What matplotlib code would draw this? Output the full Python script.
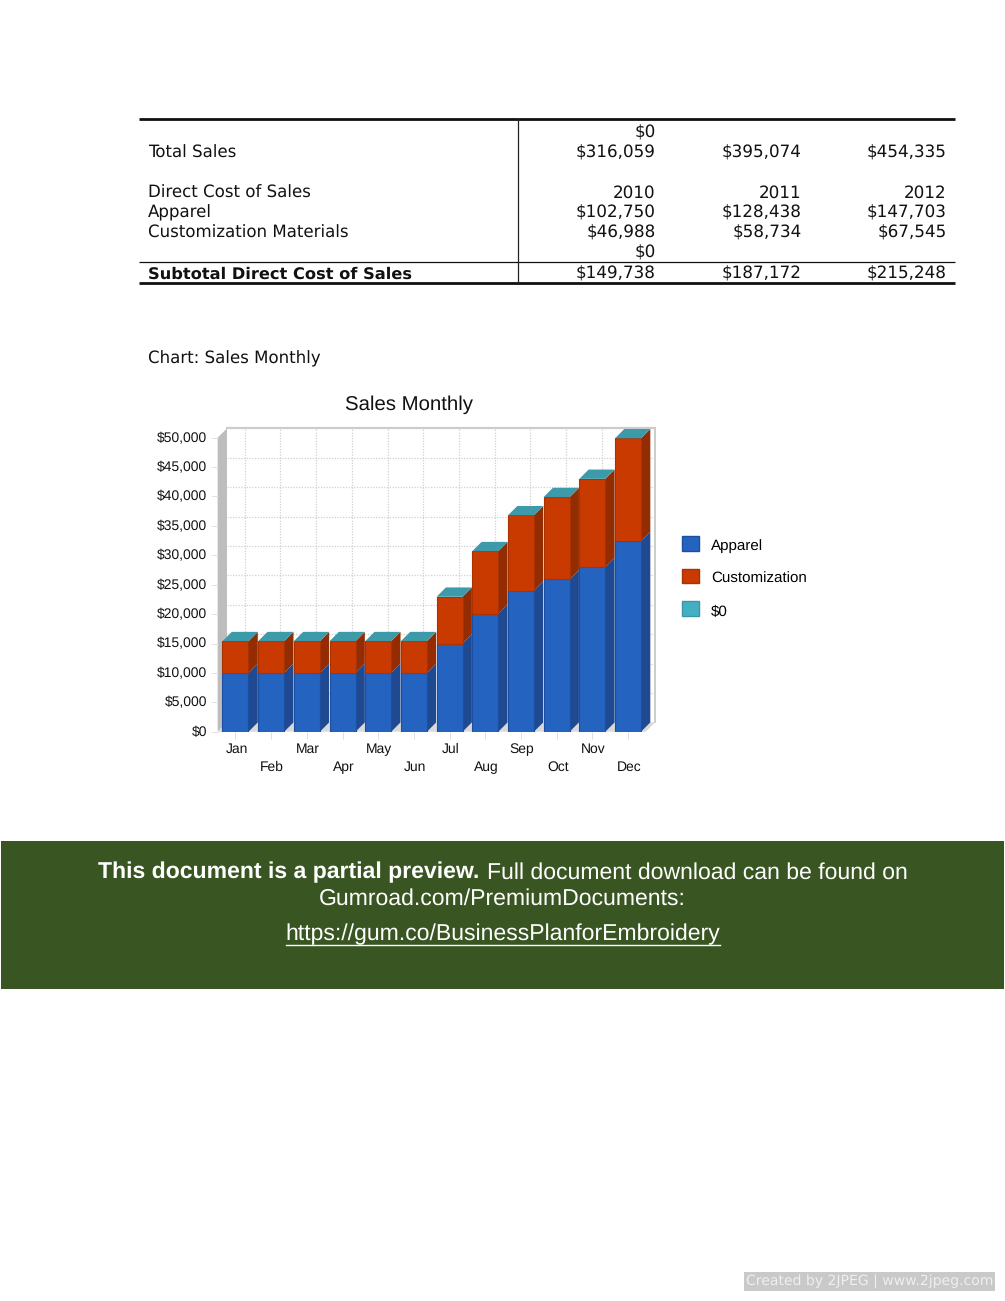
import matplotlib
matplotlib.use("Agg")
import matplotlib.pyplot as plt
from matplotlib.patches import Polygon, Rectangle, Patch
from matplotlib.legend_handler import HandlerPatch
from matplotlib.transforms import ScaledTranslation

plt.rcParams["text.hinting"] = "no_hinting"
plt.rcParams["text.hinting_factor"] = 8

W, H = 1005, 1301

months = ["Jan", "Feb", "Mar", "Apr", "May", "Jun", "Jul", "Aug", "Sep", "Oct", "Nov", "Dec"]
apparel = [10000, 10000, 10000, 10000, 10000, 10000, 15000, 20100, 24000, 25900, 28000, 32400]
customization = [5400, 5400, 5400, 5400, 5400, 5400, 7950, 10600, 12800, 14000, 15000, 17500]
zero_series = [0] * 12
y_ticks = list(range(0, 50001, 5000))
y_labels = [f"${v:,}" for v in y_ticks]

table_rows = [
    ("", "$0", "", ""),
    ("Total Sales", "$316,059", "$395,074", "$454,335"),
    ("Direct Cost of Sales", "2010", "2011", "2012"),
    ("Apparel", "$102,750", "$128,438", "$147,703"),
    ("Customization Materials", "$46,988", "$58,734", "$67,545"),
    ("", "$0", "", ""),
    ("Subtotal Direct Cost of Sales", "$149,738", "$187,172", "$215,248"),
]
table_y = [138, 157.5, 197.3, 217.3, 237.3, 257.3, 278.3]

fig = plt.figure(figsize=(W / 100, H / 100), dpi=100, facecolor="white")

# page layer in pixel coordinates
page = fig.add_axes([0, 0, 1, 1])
page.set_xlim(0, W)
page.set_ylim(H, 0)
page.axis("off")

for y, lw in ((119, 2.0), (261.5, 0.9), (283, 2.0)):
    page.plot([139, 955], [y, y], color="#111111", lw=lw, solid_capstyle="butt")
page.plot([518, 518], [119, 283], color="#222222", lw=0.9)

for row, y in zip(table_rows, table_y):
    bold = row[0].startswith("Subtotal")
    page.text(148, y, row[0], ha="left", va="baseline", fontsize=11.67 if bold else 12, color="#111111",
              family="DejaVu Sans", fontweight="bold" if bold else "normal")
    for x, s in zip((655.5, 801.5, 946.5), row[1:]):
        page.text(x, y, s, ha="right", va="baseline", fontsize=12.1, color="#111111",
                  family="DejaVu Sans")
page.text(148, 363.5, "Chart: Sales Monthly", ha="left", va="baseline", fontsize=12,
          color="#111111", family="DejaVu Sans")

# banner
page.add_patch(Rectangle((1, 841), 1003, 148, facecolor="#385522", edgecolor="none"))
page.text(98, 878.3, "This document is a partial preview.", ha="left", va="baseline",
          fontsize=16.6, color="white", family="Liberation Sans", fontweight="bold")
page.text(487, 878.3, "Full document download can be found on", ha="left", va="baseline",
          fontsize=16.6, color="white", family="Liberation Sans")
page.text(502.5, 904.3, "Gumroad.com/PremiumDocuments:", ha="center", va="baseline",
          fontsize=16.6, color="white", family="Liberation Sans")
page.text(502.5, 940, "https://gum.co/BusinessPlanforEmbroidery", ha="center", va="baseline",
          fontsize=16.6, color="white", family="Liberation Sans")
page.plot([286, 720], [944.5, 944.5], color="white", lw=1.0)

# watermark
page.add_patch(Rectangle((744, 1271.7), 251, 19.3, facecolor="#c9c9c9", edgecolor="none"))
page.text(746, 1286, "Created by 2JPEG | www.2jpeg.com", ha="left", va="baseline",
          fontsize=10.1, color="#efefef", family="DejaVu Sans")

# chart: axes rectangle is the front plane
left, right, top, bottom = 217.65, 645.85, 437.7, 731.7
ax = fig.add_axes([left / W, 1 - bottom / H, (right - left) / W, (bottom - top) / H])
ax.set_facecolor("none")
ax.set_xlim(-0.5, 11.5)
ax.set_ylim(0, 50000)
for s in ax.spines.values():
    s.set_visible(False)

font = "Liberation Sans"
dx = 9.3 / ((right - left) / 12)          # depth in x data units
dy = 9.3 / ((bottom - top) / 50000)       # depth in y data units
bar_w = 26 / ((right - left) / 12)
x0, x1 = -0.5, 11.5


def poly(pts, fc, ec="none", lw=0.0, z=2):
    ax.add_patch(Polygon(pts, closed=True, facecolor=fc, edgecolor=ec, linewidth=lw,
                         zorder=z, clip_on=False, joinstyle="miter"))


# walls and floor
poly([(x0, 0), (x0 + dx, dy), (x0 + dx, 50000 + dy), (x0, 50000)], "#bdbdbd", z=1)
poly([(x0, 0), (x1, 0), (x1 + dx, dy), (x0 + dx, dy)], "#d9d9d9", z=1)
ax.plot([x0 + dx, x1 + dx], [50000 + dy, 50000 + dy], color="#cccccc", lw=1.6, zorder=1.2, clip_on=False)
ax.plot([x1 + dx, x1 + dx], [dy, 50000 + dy], color="#cccccc", lw=1.4, zorder=1.2, clip_on=False)

# grid on the back wall
for v in y_ticks[1:-1]:
    ax.plot([x0 + dx, x1 + dx], [v + dy, v + dy], color="#d0d0d0", lw=0.9, ls=(0, (1, 1.2)),
            zorder=1.1, clip_on=False)
for i in range(len(months)):
    ax.plot([i + dx, i + dx], [dy, 50000 + dy], color="#d0d0d0", lw=0.9, ls=(0, (1, 1.2)),
            zorder=1.1, clip_on=False)

# stacked bars with side and top faces
series = [
    (apparel, "#2563c1", "#1f4a92", "#1d4fa0"),
    (customization, "#c93a00", "#932c00", "#a83200"),
    (zero_series, "#45afc2", "#2f8493", "#3a96a5"),
]
top_face = "#3c9aa9"
for i in range(len(months)):
    xa, xb = i - bar_w / 2, i + bar_w / 2
    base = 0
    for z_i, (vals, front, side, edge) in enumerate(series):
        h = vals[i]
        if h > 0:
            z = 3 + i + z_i * 0.1
            poly([(xb, base), (xb + dx, base + dy), (xb + dx, base + h + dy), (xb, base + h)], side, z=z)
            ax.bar(i, h, bottom=base, width=bar_w, color=front, edgecolor=edge, linewidth=0.8,
                   zorder=z + 0.01)
        base += h
    poly([(xa, base), (xb, base), (xb + dx, base + dy), (xa + dx, base + dy)], top_face,
         z=3 + i + 0.3)

# ticks and labels
ax.set_yticks(y_ticks)
ax.set_yticklabels(y_labels, fontsize=10, family=font, color="#111111")
ax.set_xticks(range(len(months)))
ax.set_xticklabels(months, fontsize=10, family=font, color="#111111")
ax.tick_params(axis="y", length=4.5, width=0.7, color="#e0e0e0", pad=2.9)
ax.tick_params(axis="x", length=5, width=0.7, color="#e0e0e0", pad=5)
for i, t in enumerate(ax.xaxis.get_major_ticks()):
    t.set_pad(10.4 if i % 2 == 0 else 23.1)
    t.label1.set_verticalalignment("baseline")
up = ScaledTranslation(0, 1 / 100, fig.dpi_scale_trans)
for lab in ax.get_yticklabels():
    lab.set_transform(lab.get_transform() + up)
rt = ScaledTranslation(1 / 100, 0, fig.dpi_scale_trans)
for lab in ax.get_xticklabels():
    lab.set_transform(lab.get_transform() + rt)

ax.set_title("Sales Monthly", x=(408.5 - left) / (right - left), y=1 + (top - 405) / (bottom - top),
             va="center", ha="center", fontsize=14.7, family=font, color="#111111", pad=0)


# legend: swatches sit slightly above the text baseline
def raised_swatch(legend, orig_handle, xdescent, ydescent, width, height, fontsize):
    return Rectangle((-xdescent, -ydescent + 1.3), width, height)


handles = [Patch(facecolor=f, edgecolor=e, linewidth=1.0, label=l)
           for (f, e, l) in zip(("#2563c1", "#c93a00", "#45afc2"),
                                ("#1d4fa0", "#a83200", "#3a96a5"),
                                ("Apparel", "Customization", "$0"))]
leg = fig.legend(handles=handles, loc="upper left", bbox_to_anchor=(682 / W, 1 - 537.8 / H),
                 frameon=False, borderpad=0, borderaxespad=0,
                 handlelength=1.12, handleheight=1.12, handletextpad=0.8, labelspacing=1.13,
                 handler_map={Patch: HandlerPatch(patch_func=raised_swatch)},
                 prop={"family": font, "size": 10.9})

fig.savefig("out.png", dpi=100, facecolor="white")
